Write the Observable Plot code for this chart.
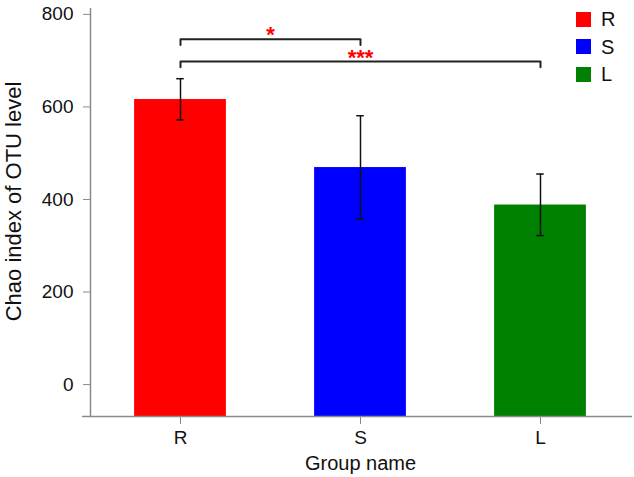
<!DOCTYPE html>
<html><head><meta charset="utf-8">
<script src="https://cdn.jsdelivr.net/npm/d3@7"></script>
<script src="https://cdn.jsdelivr.net/npm/@observablehq/plot@0.6"></script>
<style>
body{margin:0;background:#fff;font-family:"Liberation Sans",Arial,sans-serif;}
#wrap{position:relative;width:634px;height:477px;overflow:hidden;}
#wrap svg{position:absolute;left:0;top:0;}
.sw{position:absolute;width:15px;height:15px;}
.lt{position:absolute;font-size:20px;line-height:20px;color:#111;}
</style></head><body><div id="wrap"></div>
<script>
const groups = ["R", "S", "L"];
const chao = [616, 469, 388];
const errLow = [572, 358, 322];
const errHigh = [661, 581, 455];
const colors = ["#ff0000", "#0000ff", "#008000"];
const yTicks = [0, 200, 400, 600, 800];
const brackets = [
  {from: "R", to: "S", level: 746, label: "*"},
  {from: "R", to: "L", level: 698, label: "***"}
];
const xLabel = "Group name";
const yLabel = "Chao index of OTU level";

const data = groups.map((g, i) => ({group: g, i, value: chao[i], lo: errLow[i], hi: errHigh[i]}));
const yMin = -69, yMax = 830, half = 0.255, cap = 0.021, drop = 12;
const idx = g => groups.indexOf(g);
const bracketPts = brackets.flatMap((b, k) => [
  {k, x: idx(b.from), y: b.level - drop},
  {k, x: idx(b.from), y: b.level},
  {k, x: idx(b.to), y: b.level},
  {k, x: idx(b.to), y: b.level - drop}
]);
const starData = brackets.map(b => ({x: (idx(b.from) + idx(b.to)) / 2, y: b.level, label: b.label}));
const axisColor = "#8a8a8a", ink = "#111";

const plot = Plot.plot({
  width: 634, height: 477,
  marginLeft: 90, marginRight: 4, marginTop: 0, marginBottom: 61,
  style: {fontFamily: "'Liberation Sans', Arial, sans-serif", background: "white", overflow: "visible"},
  x: {domain: [-0.5, 2.5]},
  y: {domain: [yMin, yMax]},
  color: {domain: groups, range: colors},
  marks: [
    Plot.rectY(data, {x1: d => d.i - half, x2: d => d.i + half, y1: yMin, y2: "value", fill: "group"}),
    Plot.ruleX(data, {x: "i", y1: "lo", y2: "hi", stroke: ink, strokeWidth: 1.5}),
    Plot.ruleY(data, {y: "lo", x1: d => d.i - cap, x2: d => d.i + cap, stroke: ink, strokeWidth: 1.5}),
    Plot.ruleY(data, {y: "hi", x1: d => d.i - cap, x2: d => d.i + cap, stroke: ink, strokeWidth: 1.5}),
    Plot.line(bracketPts, {x: "x", y: "y", z: "k", stroke: "#222", strokeWidth: 2}),
    Plot.text(starData, {x: "x", y: "y", text: "label", fill: "red", fontWeight: "bold", fontSize: 22, lineAnchor: "bottom", dy: 3}),
    Plot.axisY({ticks: yTicks, tickSize: 7, tickPadding: 10, fontSize: 19, stroke: axisColor, fill: ink, label: null}),
    Plot.axisX({ticks: [0, 1, 2], tickFormat: i => groups[i], tickSize: 8, tickPadding: 6, fontSize: 19, stroke: axisColor, fill: ink, label: null}),
    Plot.ruleX([-0.5], {y1: yMin, y2: yMax, insetBottom: -8, stroke: axisColor, strokeWidth: 1.5}),
    Plot.ruleY([yMin], {x1: -0.5, x2: 2.5, insetLeft: -8, insetRight: -2, stroke: axisColor, strokeWidth: 1.5}),
    Plot.text([xLabel], {text: d => d, frameAnchor: "bottom", textAnchor: "middle", dy: 47, fontSize: 20, lineAnchor: "middle", fill: ink}),
    Plot.text([yLabel], {text: d => d, frameAnchor: "left", textAnchor: "middle", rotate: -90, dx: -77, dy: -7, fontSize: 22, lineAnchor: "middle", fill: ink})
  ]
});
const wrap = document.getElementById("wrap");
wrap.appendChild(plot);

groups.forEach((g, i) => {
  const top = 19 + i * 27.5;
  const sw = document.createElement("div");
  sw.className = "sw";
  sw.style.left = "576px";
  sw.style.top = (top - 7.5) + "px";
  sw.style.background = colors[i];
  wrap.appendChild(sw);
  const t = document.createElement("div");
  t.className = "lt";
  t.style.left = "601px";
  t.style.top = (top - 10) + "px";
  t.textContent = g;
  wrap.appendChild(t);
});
</script></body></html>
